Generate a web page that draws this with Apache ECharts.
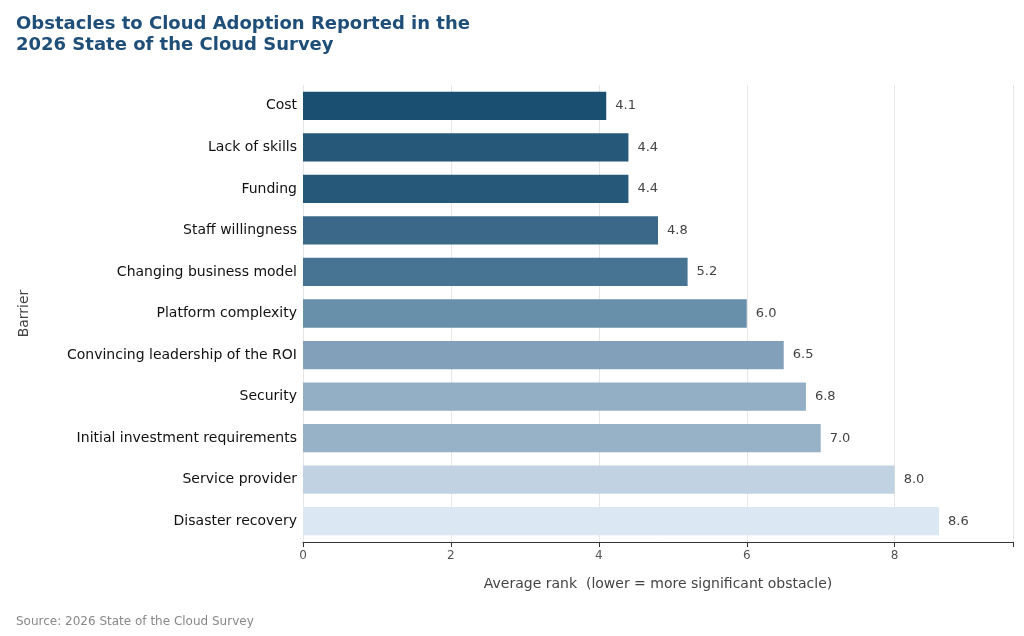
<!DOCTYPE html>
<html><head><meta charset="utf-8">
<script src="https://cdn.jsdelivr.net/npm/echarts@6/dist/echarts.min.js"></script>
<style>html,body{margin:0;padding:0;background:#fff}#c{width:1024px;height:636px}</style>
</head><body><div id="c"></div>
<script>
const categories = ["Cost","Lack of skills","Funding","Staff willingness","Changing business model","Platform complexity","Convincing leadership of the ROI","Security","Initial investment requirements","Service provider","Disaster recovery"];
const values = [4.1,4.4,4.4,4.8,5.2,6.0,6.5,6.8,7.0,8.0,8.6];
const colors = ["#1b4f72","#26587a","#26587a","#3b6888","#477493","#6990ab","#82a0b9","#93afc5","#97b1c7","#c1d3e3","#dbe7f3"];
const chart = echarts.init(document.getElementById('c'));
chart.setOption({
  animation:false,
  title:[{text:"Obstacles to Cloud Adoption Reported in the\n2026 State of the Cloud Survey",left:11,top:9,textStyle:{fontFamily:"DejaVu Sans",fontSize:18,fontWeight:"bold",color:"#1f4e79",lineHeight:21}},
         {text:"Source: 2026 State of the Cloud Survey",left:11,top:611,textStyle:{fontFamily:"DejaVu Sans",fontSize:12,fontWeight:"normal",color:"#888"}}],
  grid:{left:303,right:11,top:85,bottom:94,containLabel:false},
  xAxis:{type:"value",min:0,max:9.6,interval:2,
    name:"Average rank  (lower = more significant obstacle)",nameLocation:"middle",nameGap:35,
    nameTextStyle:{fontFamily:"DejaVu Sans",fontSize:14,color:"#444"},
    axisLine:{show:true,lineStyle:{color:"#333"}},axisTick:{show:true,lineStyle:{color:"#333"}},
    axisLabel:{fontFamily:"DejaVu Sans",fontSize:12,color:"#555",formatter:v=>(v%2===0?v:'')},
    splitLine:{show:true,lineStyle:{color:"#e6e6e6"}}},
  yAxis:{type:"category",data:categories,inverse:true,
    name:"Barrier",nameLocation:"middle",nameGap:272,nameTextStyle:{fontFamily:"DejaVu Sans",fontSize:14,color:"#444"},
    axisLine:{show:false},axisTick:{show:false},
    axisLabel:{fontFamily:"DejaVu Sans",fontSize:14,color:"#111",margin:6}},
  series:[{type:"bar",data:values.map((v,i)=>({value:v,itemStyle:{color:colors[i]}})),
    barCategoryGap:"32%",
    label:{show:true,position:"right",distance:9,formatter:p=>p.value.toFixed(1),fontFamily:"DejaVu Sans",fontSize:13,color:"#444"}}]
});
</script></body></html>
